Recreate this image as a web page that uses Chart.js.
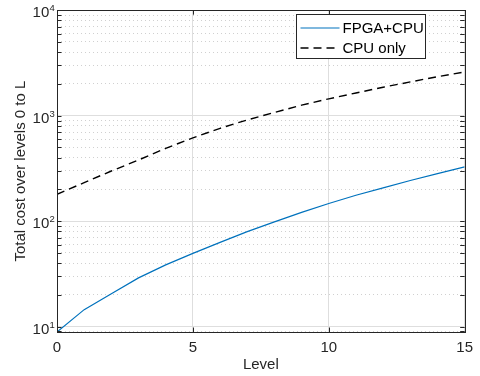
<!DOCTYPE html>
<html lang="en">
<head>
<meta charset="UTF-8">
<title>Total cost over levels</title>
<script src="https://cdn.jsdelivr.net/npm/chart.js"></script>
<style>
  html, body { margin: 0; padding: 0; background: #fff; }
</style>
</head>
<body>
<canvas id="costChart" width="480" height="376"></canvas>
<script>
// cost per level, summed from level 0 up to L
const levels = [0, 1, 2, 3, 4, 5, 6, 7, 8, 9, 10, 11, 12, 13, 14, 15];
const fpgaCpu = [8.9, 14.5, 20.5, 29, 38.5, 49.5, 63, 79.5, 98.5, 121, 147, 176, 207, 243, 282, 327];
const cpuOnly = [180, 232, 299, 380, 490, 617, 759, 912, 1072, 1259, 1445, 1641, 1862, 2089, 2344, 2600];
const xTicks = [0, 5, 10, 15];
const yMin = 8.9, yMax = 10000;

const FONT = '"Liberation Sans", Arial, Helvetica, sans-serif';
const AXIS = '#262626';

const isDecade = v => Math.abs(Math.log10(v) - Math.round(Math.log10(v))) < 1e-9;

// 1..9 x 10^k inside the y range
function logTicks() {
  const out = [];
  for (let k = 0; k <= 4; k++) {
    for (let m = 1; m <= 9; m++) {
      const v = m * Math.pow(10, k);
      if (v >= yMin && v <= yMax) out.push({ value: v });
    }
  }
  return out;
}

// box, inward ticks, 10^n labels and legend, drawn like a MATLAB axes
const frame = {
  id: 'frame',
  afterDraw(chart) {
    const { ctx, chartArea: a, scales: { x, y } } = chart;
    const tl = 4.5;
    ctx.save();
    ctx.strokeStyle = AXIS;
    ctx.lineWidth = 1;
    ctx.beginPath();
    y.ticks.forEach(t => {
      const py = Math.round(y.getPixelForValue(t.value)) + 0.5;
      ctx.moveTo(a.left, py); ctx.lineTo(a.left + tl, py);
      ctx.moveTo(a.right, py); ctx.lineTo(a.right - tl, py);
    });
    xTicks.forEach(v => {
      const px = Math.round(x.getPixelForValue(v)) + 0.5;
      ctx.moveTo(px, a.bottom); ctx.lineTo(px, a.bottom - tl);
      ctx.moveTo(px, a.top); ctx.lineTo(px, a.top + tl);
    });
    ctx.stroke();
    ctx.strokeRect(Math.round(a.left) + 0.5, Math.round(a.top) + 0.5,
                   Math.round(a.right - a.left), Math.round(a.bottom - a.top));

    // y labels as 10 with a raised exponent
    ctx.fillStyle = AXIS;
    ctx.textBaseline = 'middle';
    y.ticks.filter(t => isDecade(t.value)).forEach(t => {
      const py = y.getPixelForValue(t.value);
      ctx.font = '15px ' + FONT;
      ctx.textAlign = 'right';
      ctx.fillText('10', a.left - 7.7, py + 3);
      ctx.font = '9.5px ' + FONT;
      ctx.textAlign = 'left';
      ctx.fillText(String(Math.round(Math.log10(t.value))), a.left - 7.5, py - 1.5);
    });

    // legend box
    const bw = 129, bh = 44;
    const bx = Math.round(a.right - 39.5 - bw) + 0.5, by = Math.round(a.top + 4) + 0.5;
    ctx.fillStyle = '#fff';
    ctx.fillRect(bx, by, bw, bh);
    ctx.strokeStyle = AXIS;
    ctx.strokeRect(bx, by, bw, bh);
    chart.data.datasets.forEach((ds, i) => {
      const ry = by + 13.5 + i * 20;
      ctx.strokeStyle = ds.borderColor;
      ctx.lineWidth = ds.borderWidth;
      ctx.setLineDash(ds.borderDash || []);
      ctx.beginPath();
      ctx.moveTo(bx + 4, ry); ctx.lineTo(bx + 43, ry);
      ctx.stroke();
      ctx.setLineDash([]);
      ctx.fillStyle = '#000';
      ctx.font = '15px ' + FONT;
      ctx.textAlign = 'left';
      ctx.fillText(ds.label, bx + 46, ry + 0.5);
    });
    ctx.restore();
  }
};

new Chart(document.getElementById('costChart'), {
  type: 'line',
  data: {
    datasets: [
      {
        label: 'FPGA+CPU',
        data: levels.map((l, i) => ({ x: l, y: fpgaCpu[i] })),
        borderColor: '#0072BD',
        borderWidth: 1.2,
        pointRadius: 0,
        tension: 0
      },
      {
        label: 'CPU only',
        data: levels.map((l, i) => ({ x: l, y: cpuOnly[i] })),
        borderColor: '#000000',
        borderWidth: 1.4,
        borderDash: [8, 5],
        pointRadius: 0,
        tension: 0
      }
    ]
  },
  options: {
    responsive: false,
    animation: false,
    events: [],
    layout: { padding: { left: 0, right: 12.5, top: 9, bottom: 0 } },
    plugins: { legend: { display: false }, tooltip: { enabled: false } },
    scales: {
      x: {
        type: 'linear',
        min: 0,
        max: 15,
        afterBuildTicks: s => { s.ticks = xTicks.map(v => ({ value: v })); },
        afterFit: s => { s.height = 44; },
        grid: { color: '#dedede', lineWidth: 1, drawTicks: false },
        border: { display: false },
        ticks: { color: AXIS, font: { family: FONT, size: 15 }, padding: 7, maxRotation: 0, autoSkip: false },
        title: {
          display: true, text: 'Level', color: AXIS,
          font: { family: FONT, size: 15 }, padding: { top: 0, bottom: 2 }
        }
      },
      y: {
        type: 'logarithmic',
        min: yMin,
        max: yMax,
        afterBuildTicks: s => { s.ticks = logTicks(); },
        afterFit: s => { s.width = 57; },
        grid: {
          color: c => isDecade(c.tick.value) ? '#dedede' : '#d0d0d0',
          lineWidth: 1,
          drawTicks: false
        },
        border: {
          display: false,
          dash: c => (c.tick && isDecade(c.tick.value)) ? [] : [1, 3]
        },
        ticks: { callback: () => '', autoSkip: false },
        title: {
          display: true, text: 'Total cost over levels 0 to L', color: AXIS,
          font: { family: FONT, size: 15 }, padding: { top: 12, bottom: 0 }
        }
      }
    }
  },
  plugins: [frame]
});
</script>
</body>
</html>
